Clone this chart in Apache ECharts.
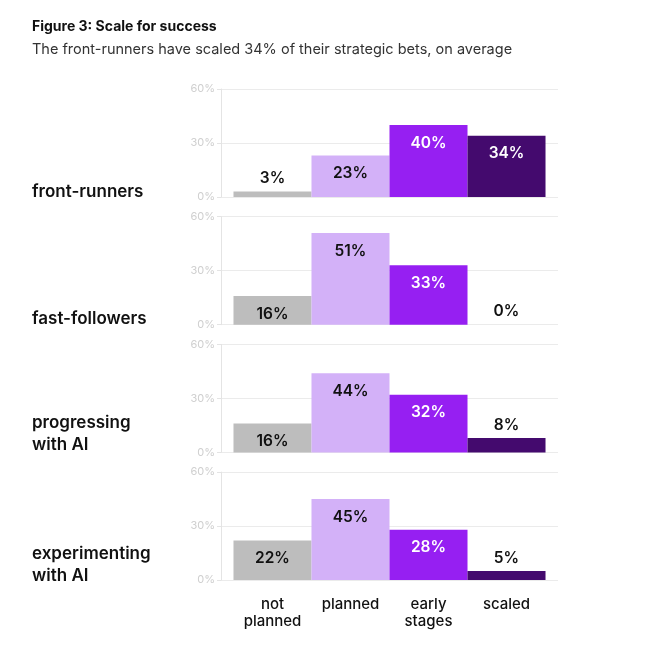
<!DOCTYPE html>
<html>
<head>
<meta charset="utf-8">
<script src="https://cdn.jsdelivr.net/npm/echarts@6/dist/echarts.min.js"></script>
<style>
  html, body { margin: 0; padding: 0; background: #fff; }
  #chart { width: 650px; height: 648px; }
</style>
</head>
<body>
<div id="chart"></div>
<script>
const categories = ['not\nplanned', 'planned', 'early\nstages', 'scaled'];
const groups = ['front-runners', 'fast-followers', 'progressing\nwith AI', 'experimenting\nwith AI'];
const frontRunners = [3, 23, 40, 34];
const fastFollowers = [16, 51, 33, 0];
const progressing = [16, 44, 32, 8];
const experimenting = [22, 45, 28, 5];
const yTicks = [0, 30, 60];

const groupValues = [frontRunners, fastFollowers, progressing, experimenting];
const colors = ['#bdbdbd', '#d3b1f8', '#961ff2', '#440a6e'];
const font = 'Inter, "Noto Sans", sans-serif';

// panel geometry
const gridTop = 89;
const gridStep = 127.7;
const gridHeight = 108;
const labelTops = [181, 308, 412, 543];

const grids = [];
const xAxes = [];
const yAxes = [];
const series = [];
const titles = [
  {
    text: 'Figure 3: Scale for success',
    left: 32,
    top: 20,
    padding: 0,
    textStyle: { fontFamily: font, fontSize: 14, fontWeight: 'bold', color: '#111' },
  },
  {
    text: 'The front-runners have scaled 34% of their strategic bets, on average',
    left: 32,
    top: 42,
    padding: 0,
    textStyle: { fontFamily: font, fontSize: 14.5, fontWeight: 'normal', color: '#333' },
  },
];

groupValues.forEach((vals, i) => {
  const last = i === groupValues.length - 1;
  grids.push({
    left: 221,
    right: 92,
    top: gridTop + i * gridStep,
    height: gridHeight,
  });
  xAxes.push({
    type: 'value',
    gridIndex: i,
    min: -0.66,
    max: 3.66,
    splitLine: { show: false },
    axisLine: { show: false },
    axisTick: { show: false },
    axisLabel: {
      show: last,
      customValues: [0, 1, 2, 3],
      formatter: (v) => categories[Math.round(v)],
      fontFamily: font,
      fontSize: 15,
      fontWeight: 500,
      lineHeight: 17,
      color: '#111',
      margin: 16,
    },
  });
  yAxes.push({
    type: 'value',
    gridIndex: i,
    min: yTicks[0],
    max: yTicks[yTicks.length - 1],
    interval: yTicks[1] - yTicks[0],
    axisLine: { show: true, onZero: false, lineStyle: { color: '#e4e4e4' } },
    axisTick: { show: true, length: 4, lineStyle: { color: '#e4e4e4' } },
    splitLine: { lineStyle: { color: '#ebebeb' } },
    axisLabel: {
      formatter: '{value}%',
      fontFamily: font,
      fontSize: 11,
      color: '#cfcfcf',
      margin: 6,
    },
  });
  titles.push({
    text: groups[i],
    left: 32,
    top: labelTops[i],
    padding: 0,
    textStyle: { fontFamily: font, fontSize: 17, fontWeight: 600, color: '#111', lineHeight: 22 },
  });
  series.push({
    type: 'bar',
    xAxisIndex: i,
    yAxisIndex: i,
    barWidth: '100%',
    barCategoryGap: '0%',
    silent: true,
    data: vals.map((v, j) => {
      const small = v < 10;
      return {
        value: [j, v],
        itemStyle: { color: colors[j] },
        label: {
          show: true,
          position: small ? 'top' : 'insideTop',
          distance: small ? 5 : 10,
          formatter: v + '%',
          fontFamily: font,
          fontSize: 15.5,
          fontWeight: 600,
          color: !small && j >= 2 ? '#fff' : '#111',
        },
      };
    }),
  });
});

const chart = echarts.init(document.getElementById('chart'));
chart.setOption({
  animation: false,
  backgroundColor: '#fff',
  title: titles,
  grid: grids,
  xAxis: xAxes,
  yAxis: yAxes,
  series: series,
});
</script>
</body>
</html>
